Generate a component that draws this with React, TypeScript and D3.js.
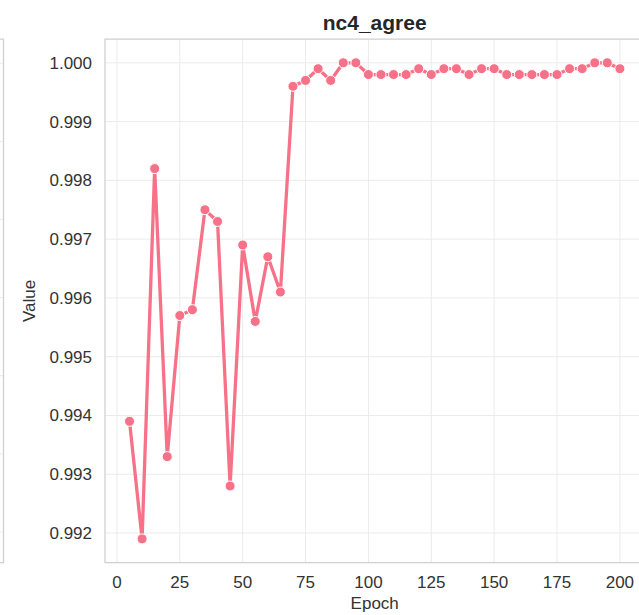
import React from "react";
import * as d3 from "d3";

const epochs = [5,10,15,20,25,30,35,40,45,50,55,60,65,70,75,80,85,90,95,100,105,110,115,120,125,130,135,140,145,150,155,160,165,170,175,180,185,190,195,200];
const values = [0.9939,0.9919,0.9982,0.9933,0.9957,0.9958,0.9975,0.9973,0.9928,0.9969,0.9956,0.9967,0.9961,0.9996,0.9997,0.9999,0.9997,1.0000,1.0000,0.9998,0.9998,0.9998,0.9998,0.9999,0.9998,0.9999,0.9999,0.9998,0.9999,0.9999,0.9998,0.9998,0.9998,0.9998,0.9998,0.9999,0.9999,1.0000,1.0000,0.9999];
const xTicks = [0,25,50,75,100,125,150,175,200];
const yTicks = [0.992,0.993,0.994,0.995,0.996,0.997,0.998,0.999,1.000];
const title = "nc4_agree";
const xLabel = "Epoch";
const yLabel = "Value";

const W = 639, H = 615;
const left = 105, top = 39, right = 644.4, bottom = 562.7;
const font = "'Liberation Sans', Arial, Helvetica, sans-serif";
const color = "#f77189";

export default function App() {
  const x = d3.scaleLinear().domain([-4.75, 209.75]).range([left, right]);
  const y = d3.scaleLinear().domain([0.991495, 1.000405]).range([bottom, top]);
  const pts = epochs.map((e, i) => [e, values[i]] as [number, number]);
  const line = d3.line<[number, number]>().x(d => x(d[0])).y(d => y(d[1]));
  const stubs = d3.range(7).map(i => 63.3 + i * 78.1);
  return (
    <svg width={W} height={H} style={{ position: "absolute", left: 0, top: 0, background: "#fff" }}>
      <rect x={0} y={0} width={W} height={H} fill="#fff" />
      {stubs.map((s, i) => (
        <line key={i} x1={0} x2={3.5} y1={s} y2={s} stroke="#ebebeb" strokeWidth={1} />
      ))}
      <path d={`M0,${top} H3.5 V${bottom} H0`} fill="none" stroke="#d0d0d0" strokeWidth={1.25} />
      {xTicks.map(t => (
        <line key={"gx" + t} x1={x(t)} x2={x(t)} y1={top} y2={bottom} stroke="#ebebeb" strokeWidth={1} />
      ))}
      {yTicks.map(t => (
        <line key={"gy" + t} x1={left} x2={right} y1={y(t)} y2={y(t)} stroke="#ebebeb" strokeWidth={1} />
      ))}
      <path d={`M${right},${top} H${left} V${bottom} H${right}`} fill="none" stroke="#d0d0d0" strokeWidth={1.25} />
      {xTicks.map(t => (
        <text key={"tx" + t} x={x(t)} y={582} dy="0.35em" textAnchor="middle" fontFamily={font} fontSize={17} fill="#333">{t}</text>
      ))}
      {yTicks.map(t => (
        <text key={"ty" + t} x={92} y={y(t)} dy="0.35em" textAnchor="end" fontFamily={font} fontSize={17} fill="#333">{d3.format(".3f")(t)}</text>
      ))}
      <text x={(left + right) / 2} y={609} textAnchor="middle" fontFamily={font} fontSize={17} fill="#333">{xLabel}</text>
      <text transform={`translate(35,${(top + bottom) / 2}) rotate(-90)`} textAnchor="middle" fontFamily={font} fontSize={17} fill="#333">{yLabel}</text>
      <text x={(left + right) / 2} y={30} textAnchor="middle" fontFamily={font} fontSize={21} fontWeight="bold" fill="#262626">{title}</text>
      <path d={line(pts) || ""} fill="none" stroke={color} strokeWidth={3.3} strokeLinejoin="round" strokeLinecap="round" />
      {pts.map((p, i) => (
        <circle key={i} cx={x(p[0])} cy={y(p[1])} r={5} fill={color} stroke="#fff" strokeWidth={1} />
      ))}
    </svg>
  );
}
